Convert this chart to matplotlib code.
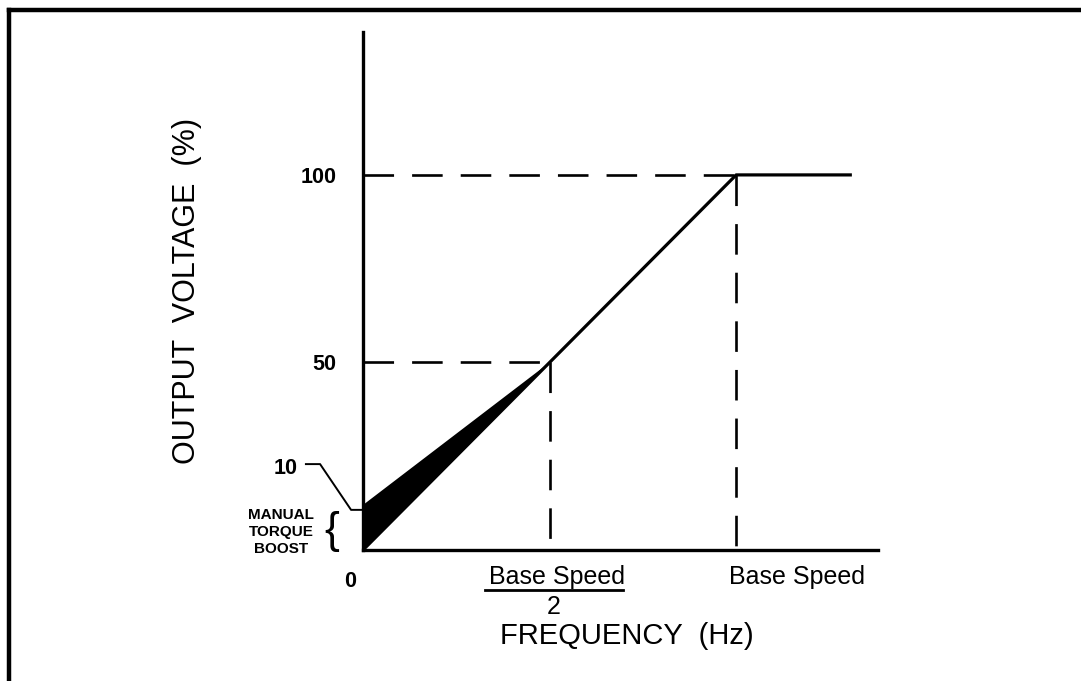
import matplotlib
matplotlib.use('Agg')
import matplotlib.pyplot as plt
from matplotlib import font_manager
from matplotlib.lines import Line2D

# V/f curve (percent of base speed, percent voltage)
freq = [0, 50, 100, 131]
volt = [0, 50, 100, 100]
boost_freq = [0, 0, 50]
boost_volt = [0, 12, 50]
ref_points = [(50, 50), (100, 100)]
ytick_vals = [50, 100]
ytick_labels = ['50', '100']

plt.rcParams['lines.scale_dashes'] = False
names = {f.name for f in font_manager.fontManager.ttflist}
if 'Liberation Sans Narrow' in names:
    narrow = 'Liberation Sans Narrow'
    small_size = 13
    num_size = 17
else:
    narrow = 'Liberation Sans'
    small_size = 11
    num_size = 15.5
main_font = 'Liberation Sans'

fig = plt.figure(figsize=(10.81, 6.81), dpi=100)
ax = fig.add_axes([363/1081, 1-550/681, 515/1081, 518/681])
ax.set_xlim(0, 138)
ax.set_ylim(0, 138.1)

for s in ['top', 'right']:
    ax.spines[s].set_visible(False)
for s in ['left', 'bottom']:
    ax.spines[s].set_linewidth(2.4)

ax.plot(freq, volt, color='black', lw=2.3, solid_capstyle='butt', clip_on=False)
ax.fill(boost_freq, boost_volt, color='black', lw=0)

for fx, fy in ref_points:
    ax.plot([0, fx], [fy, fy], color='black', lw=1.9, dashes=(22, 13))
    ax.plot([fx, fx], [fy, 0], color='black', lw=1.9, dashes=(22, 13))

ax.set_xticks([])
ax.set_yticks(ytick_vals)
ax.set_yticklabels(ytick_labels, fontfamily=narrow, fontweight='bold', fontsize=num_size)
ax.tick_params(axis='y', length=0, pad=19)

ax.set_ylabel('OUTPUT  VOLTAGE  (%)', fontfamily=main_font, fontsize=22)
ax.yaxis.set_label_coords(-0.313, 0.5)
ax.set_xlabel('FREQUENCY  (Hz)', fontfamily=main_font, fontsize=21, va='center')
ax.xaxis.set_label_coords(0.513, -0.166)

# x labels
ax.text(-3.5, -8.5, '0', fontfamily=narrow, fontweight='bold', fontsize=num_size,
        ha='center', va='center')
half = ax.text(52, -7.2, 'Base Speed', fontfamily=main_font, fontsize=18,
               ha='center', va='center')
ax.text(51, -15.2, '2', fontfamily=main_font, fontsize=18, ha='center', va='center')
ax.text(116.4, -7.2, 'Base Speed', fontfamily=main_font, fontsize=18,
        ha='center', va='center')

# manual torque boost note
ax.text(-17.4, 21.6, '10', fontfamily=narrow, fontweight='bold', fontsize=num_size,
        ha='right', va='center')
ax.plot([-15.3, -11.5, -3.2, 0], [22.9, 22.9, 10.7, 10.7], color='black', lw=1.4,
        clip_on=False)
ax.text(-22, 4.8, 'MANUAL\nTORQUE\nBOOST', fontfamily=narrow, fontweight='bold',
        fontsize=small_size, ha='center', va='center', linespacing=1.3)
ax.text(-8.3, 5, '{', fontfamily=main_font, fontsize=32, ha='center', va='center')

# underline under Base Speed / 2
fig.canvas.draw()
bb = half.get_window_extent()
inv = fig.transFigure.inverted()
(x0, y0), (x1, y1) = inv.transform([(bb.x0, bb.y0), (bb.x1, bb.y1)])
fig.add_artist(Line2D([x0 - 0.004, x1 - 0.002], [y0 - 0.002, y0 - 0.002],
                      color='black', lw=2.0))

# page frame (left and top edges)
fig.add_artist(Line2D([9/1081, 9/1081], [0, 1-10/681], color='black', lw=3.2))
fig.add_artist(Line2D([9/1081, 1], [1-10/681, 1-10/681], color='black', lw=3.2))

fig.savefig('out.png', dpi=100)
